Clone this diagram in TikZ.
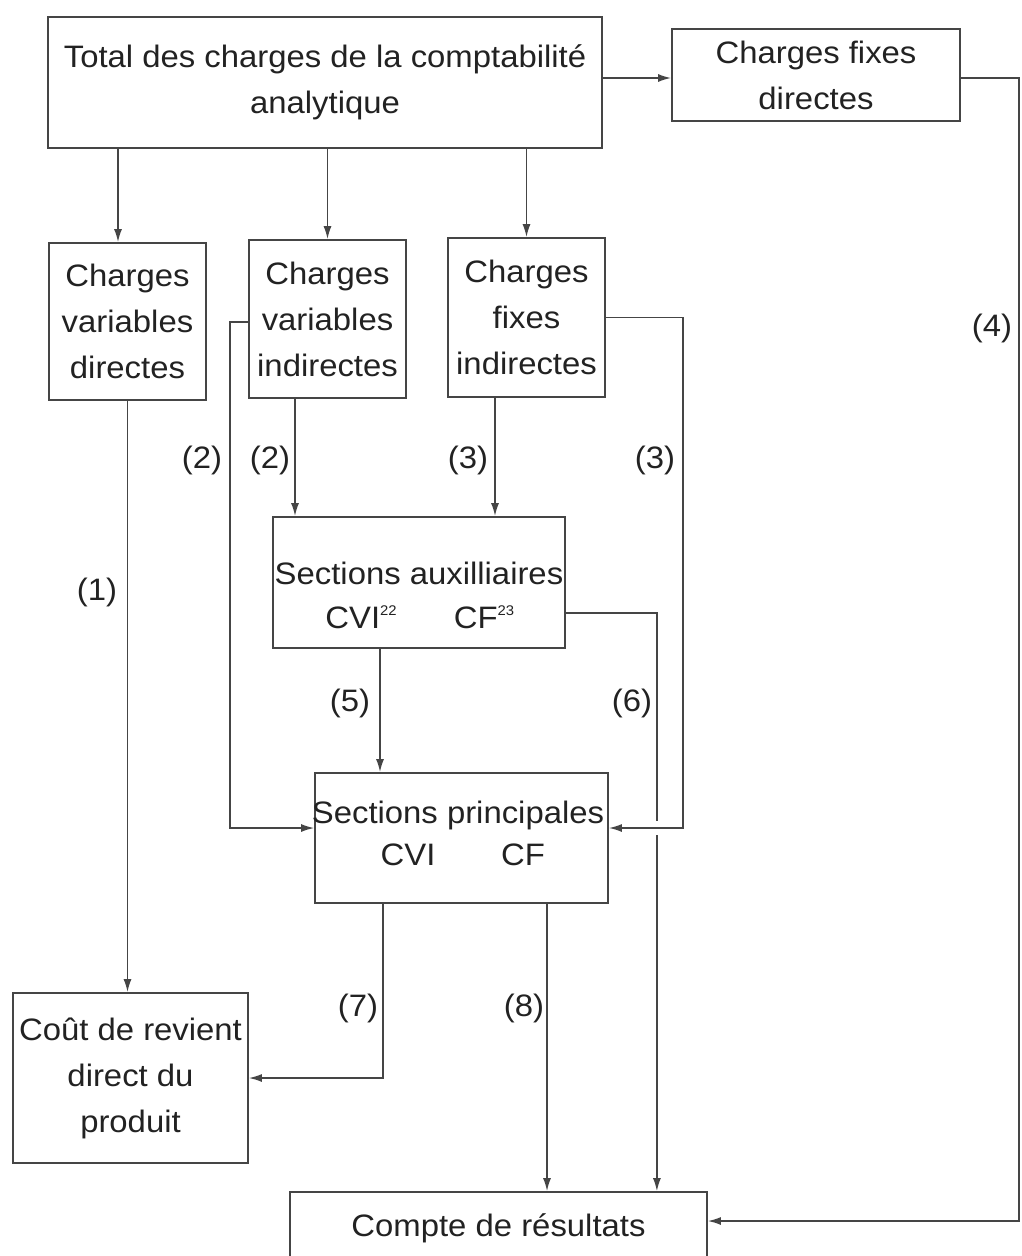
\documentclass[tikz,border=0pt]{standalone}
\usepackage{fontspec}
\setmainfont{Liberation Sans}[FakeStretch=1.06]
\usetikzlibrary{arrows.meta,calc}
\definecolor{ink}{HTML}{222222}
\definecolor{wire}{HTML}{454545}
\newcommand{\sx}[1]{\raisebox{13pt}{\fontsize{14}{14}\selectfont #1}}
\begin{document}
\begin{tikzpicture}[x=1pt,y=-1pt,
  every node/.style={text=ink, font=\fontsize{31}{46}\selectfont, inner sep=0pt},
  box/.style={draw=wire, line width=1.8pt, align=center},
  conn/.style={draw=wire, line width=1.5pt},
  arr/.style={conn, -{Latex[length=13pt,width=8pt]}}]
\clip (0,0) rectangle (1021,1256);
\fill[white] (0,0) rectangle (1021,1256);

% boxes
\node[box, minimum width=554pt, minimum height=131pt] (total) at (325,82.5)
  {Total des charges de la comptabilité\\analytique};
\node[box, minimum width=288pt, minimum height=92pt] (cfd) at (816,75)
  {Charges fixes\\directes};
\node[box, minimum width=157pt, minimum height=157pt] (cvd) at (127.5,321.5)
  {Charges\\variables\\directes};
\node[box, minimum width=157pt, minimum height=158pt] (cvi) at (327.5,319)
  {Charges\\variables\\indirectes};
\node[box, minimum width=157pt, minimum height=159pt] (cfi) at (526.5,317.5)
  {Charges\\fixes\\indirectes};
\node[box, minimum width=292pt, minimum height=131pt] (aux) at (419,582.5) {};
\node (auxt) at (419,573) {Sections auxilliaires};
\node (auxv) at (361,617) {CVI\sx{22}};
\node (auxf) at (484,617) {CF\sx{23}};
\node[box, minimum width=293pt, minimum height=130pt] (princ) at (461.5,838) {};
\node (princt) at (458,815) {Sections principales};
\node (princv) at (408,855) {CVI};
\node (princf) at (523,855) {CF};
\node[box, minimum width=235pt, minimum height=170pt] (cout) at (130.5,1078)
  {Coût de revient\\direct du\\produit};
\node[box, minimum width=417pt, minimum height=72pt] (compte) at (498.5,1228)
  {Compte de résultats};

% flow labels
\node (l1) at (97,592) {(1)};
\node (l2a) at (202,460) {(2)};
\node (l2b) at (270,460) {(2)};
\node (l3a) at (468,460) {(3)};
\node (l3b) at (655,460) {(3)};
\node (l4) at (992,328) {(4)};
\node (l5) at (350,703) {(5)};
\node (l6) at (632,703) {(6)};
\node (l7) at (358,1008) {(7)};
\node (l8) at (524,1008) {(8)};

% anchor points on the box edges
\coordinate (cfdin) at ([yshift=-3pt]cfd.west);
\coordinate (cfdout) at ([yshift=-3pt]cfd.east);
\coordinate (a1) at ([xshift=-9.5pt]cvd.north);
\coordinate (a2) at ([xshift=-32.5pt]cvi.south);
\coordinate (a3) at ([xshift=-31.5pt]cfi.south);
\coordinate (a5) at ([xshift=-39pt]aux.south);
\coordinate (a7) at ([xshift=-78.5pt]princ.south);
\coordinate (a8) at ([xshift=85.5pt]princ.south);
\coordinate (in2) at ([yshift=10pt]princ.west);
\coordinate (in3) at ([yshift=10pt]princ.east);
\coordinate (k2) at ([yshift=-3pt]cvi.west);
\coordinate (k6) at ([yshift=-30.5pt]aux.east);
\coordinate (in4) at ([yshift=7pt]compte.east);

% connectors
\draw[arr] (total.east |- cfdin) -- (cfdin);
\draw[arr] (a1 |- total.south) -- (a1);
\draw[arr] (cvi.north |- total.south) -- (cvi.north);
\draw[arr] (cfi.north |- total.south) -- (cfi.north);
\draw[arr] (cvd.south) -- (cvd.south |- cout.north);
\draw[arr] (a2) -- (a2 |- aux.north);
\draw[arr] (a3) -- (a3 |- aux.north);
\draw[arr] (k2) -- ++(-18,0) |- (in2);
\draw[arr] (a5) -- (a5 |- princ.north);
\draw[arr] (k6) -- ++(91,0) coordinate (k6b) -- (k6b |- compte.north);
% small break where the (3) return crosses the (6) line
\fill[white] ($(k6b |- in3)+(-4,-7)$) rectangle ($(k6b |- in3)+(4,7)$);
\draw[arr] (cfi.east) -- ++(77,0) |- (in3);
\draw[arr] (a7) |- (cout.east);
\draw[arr] (a8) -- (a8 |- compte.north);
\draw[arr] (cfdout) -- ++(58,0) |- (in4);
\end{tikzpicture}
\end{document}
